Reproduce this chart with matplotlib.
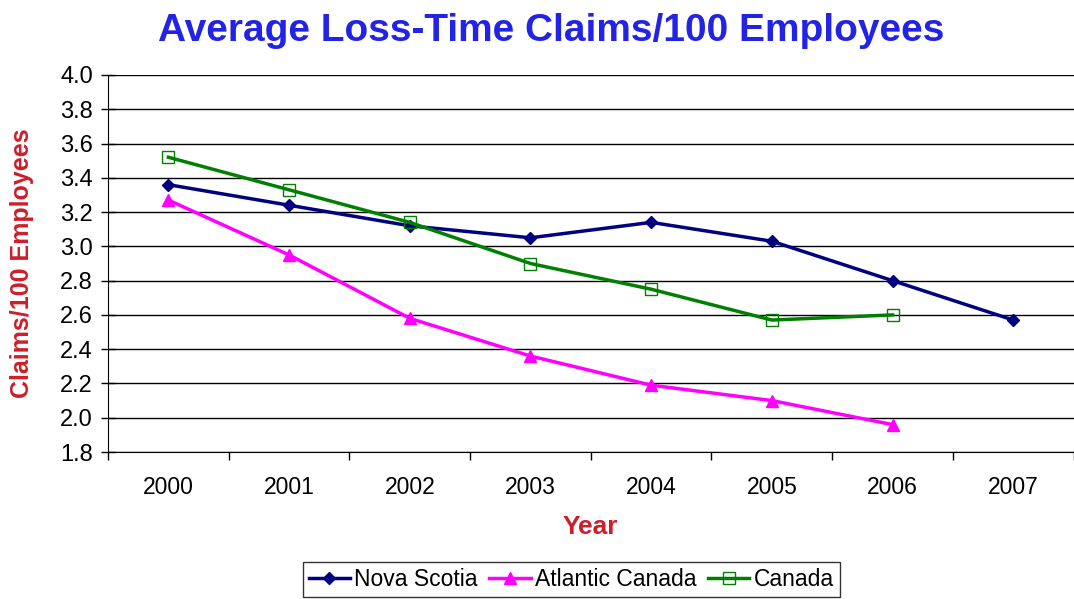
import numpy as np
import matplotlib.pyplot as plt

# Data
years = ["2000", "2001", "2002", "2003", "2004", "2005", "2006", "2007"]
nova_scotia = [3.36, 3.24, 3.12, 3.05, 3.14, 3.03, 2.80, 2.57]
atlantic_canada = [3.27, 2.95, 2.58, 2.36, 2.19, 2.10, 1.96]
canada = [3.52, 3.33, 3.14, 2.90, 2.75, 2.57, 2.60]

plt.rcParams['font.family'] = ['Liberation Sans', 'DejaVu Sans']

fig = plt.figure(figsize=(10.74, 5.99), dpi=100)
ax = fig.add_axes([0.1006, 0.2454, 0.899, 0.6294])

x = np.arange(len(years))

ax.plot(x[:len(nova_scotia)], nova_scotia, color="#000080", linewidth=2.5,
        marker="D", markersize=6, label="Nova Scotia")
ax.plot(x[:len(atlantic_canada)], atlantic_canada, color="#ff00ff", linewidth=2.5,
        marker="^", markersize=8, label="Atlantic Canada")
ax.plot(x[:len(canada)], canada, color="#008000", linewidth=2.5,
        marker="s", markersize=8, markerfacecolor="none", markeredgewidth=1,
        label="Canada")

# Axes
ax.set_xlim(-0.5, len(years) - 0.5)
ax.set_ylim(1.8, 4.0)
ax.set_yticks(np.arange(1.8, 4.01, 0.2))
ax.set_yticklabels([f"{v:.1f}" for v in np.arange(1.8, 4.01, 0.2)], fontsize=17)
ax.yaxis.grid(True, color="black", linewidth=1)
ax.set_axisbelow(True)

ax.set_xticks(np.arange(-0.5, len(years), 1.0))
ax.set_xticklabels([])
ax.set_xticks(x, minor=True)
ax.set_xticklabels(years, minor=True, fontsize=16.5)
ax.tick_params(axis="x", which="major", direction="out", length=6, width=1)
ax.tick_params(axis="x", which="minor", length=0, pad=17)
ax.tick_params(axis="y", direction="inout", length=10, width=1, pad=6)

for s in ["top", "right"]:
    ax.spines[s].set_visible(False)
ax.spines["left"].set_color("black")
ax.spines["bottom"].set_color("black")

ax.set_xlabel("Year", fontsize=19, fontweight="bold", color="#cc1f2a", labelpad=12)
ax.set_ylabel("Claims/100 Employees", fontsize=18, fontweight="bold",
              color="#cc1f2a", labelpad=19)

fig.suptitle("Average Loss-Time Claims/100 Employees", fontsize=28,
             fontweight="bold", color="#2323e6", x=0.513, y=0.978)

leg = fig.legend(loc="lower center", bbox_to_anchor=(0.532, 0.0), ncol=3,
                 fontsize=16.5, frameon=True, fancybox=False, edgecolor="black",
                 handlelength=1.8, handletextpad=0.2, columnspacing=0.5,
                 borderpad=0.25, borderaxespad=0.1)
leg.get_frame().set_linewidth(1)

fig.savefig("out.png", dpi=100)
